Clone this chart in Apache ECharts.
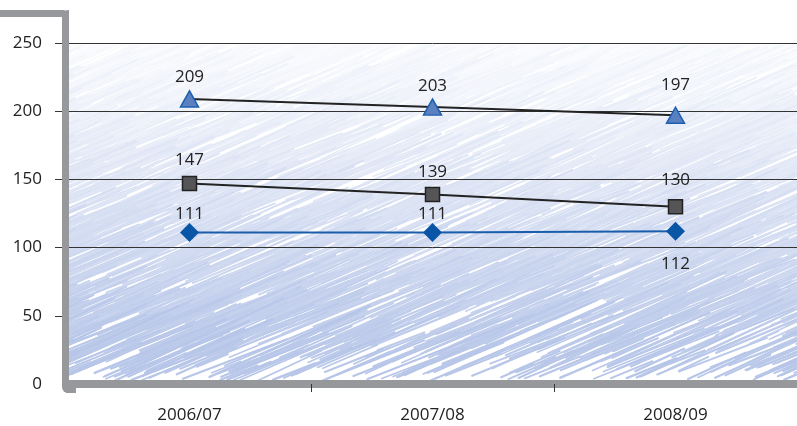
<!DOCTYPE html>
<html><head><meta charset="utf-8">
<script src="https://cdn.jsdelivr.net/npm/echarts@6/dist/echarts.min.js"></script>
<style>html,body{margin:0;padding:0;background:#fff}#c{width:797px;height:426px}</style>
</head><body><div id="c"></div>
<script>
const categories = ['2006/07', '2007/08', '2008/09'];
const triangleValues = [209, 203, 197];
const squareValues = [147, 139, 130];
const diamondValues = [111, 111, 112];
const yTicks = [0, 50, 100, 150, 200, 250];
const triangleLabelDist = [5, 4, 13];
const squareLabelDist = [7, 6, 10];
const diamondLabelPos = ['top', 'top', 'bottom'];
const diamondLabelDist = [0, 0, 15];

function makeTexture(w, h) {
  const c = document.createElement('canvas');
  c.width = w; c.height = h;
  const g = c.getContext('2d');
  g.fillStyle = '#ffffff';
  g.fillRect(0, 0, w, h);
  let s = 987654321;
  const rnd = () => { s = (s * 1103515245 + 12345) % 2147483648; return s / 2147483648; };
  const n = 3200;
  for (let i = 0; i < n; i++) {
    const y = rnd() * h;
    const t = Math.pow(y / h, 1.2);
    const L = 30 + rnd() * 150;
    const x = rnd() * (w + 160) - 160;
    const ang = 0.40 + (rnd() - 0.5) * 0.08;
    const mix = 0.05 + 0.95 * t;
    const r = Math.round(255 + (182 - 255) * mix);
    const gg = Math.round(255 + (197 - 255) * mix);
    const b = Math.round(255 + (232 - 255) * mix);
    g.strokeStyle = 'rgb(' + r + ',' + gg + ',' + b + ')';
    g.lineWidth = 1.6 + rnd() * 0.8;
    g.lineCap = 'round';
    g.beginPath();
    g.moveTo(x, y);
    g.lineTo(x + L * Math.cos(ang), y - L * Math.sin(ang));
    g.stroke();
  }
  return c;
}
const tex = makeTexture(728, 336);

const frameColor = '#97989b';
const font = '"Open Sans", "Noto Sans", sans-serif';
const chart = echarts.init(document.getElementById('c'));
chart.setOption({
  animation: false,
  backgroundColor: '#ffffff',
  grid: { left: 68, right: -6, top: 43, bottom: 42 },
  xAxis: {
    type: 'category', data: categories, boundaryGap: true,
    offset: 5,
    axisLine: { show: true, lineStyle: { color: frameColor, width: 8 } },
    axisTick: { show: true, length: 8, lineStyle: { color: '#333', width: 1 } },
    axisLabel: { color: '#222', fontSize: 17, fontFamily: font, margin: 18 },
    splitLine: { show: false }
  },
  yAxis: {
    type: 'value', min: 0, max: 250, interval: 50,
    axisLine: { show: false },
    axisTick: { show: true, length: 13, customValues: yTicks.slice(1), lineStyle: { color: '#333', width: 1 } },
    axisLabel: { color: '#222', fontSize: 17, fontFamily: font, margin: 26, customValues: yTicks },
    splitLine: { show: true, showMinLine: false, lineStyle: { color: '#333', width: 1 } }
  },
  graphic: {
    elements: [
      { type: 'image', x: 69, y: 45, z: -10, silent: true, style: { image: tex, x: 0, y: 0, width: 728, height: 336 } },
      { type: 'rect', z: 100, silent: true, shape: { x: -10, y: 10, width: 79, height: 7, r: [6, 6, 0, 0] }, style: { fill: frameColor } },
      { type: 'rect', z: 100, silent: true, shape: { x: 62, y: 10, width: 7, height: 383, r: [6, 0, 0, 6] }, style: { fill: frameColor } },
      { type: 'rect', z: 100, silent: true, shape: { x: 66, y: 385, width: 10, height: 8 }, style: { fill: frameColor } }
    ]
  },
  series: [
    {
      type: 'line', z: 5,
      data: triangleValues.map((v, i) => ({ value: v, label: { distance: triangleLabelDist[i] } })),
      symbol: 'triangle', symbolSize: [18, 16],
      lineStyle: { color: '#222', width: 2 },
      itemStyle: { color: '#5b80c1', borderColor: '#1d5fb0', borderWidth: 1.5 },
      label: { show: true, position: 'top', color: '#222', fontSize: 17, fontFamily: font }
    },
    {
      type: 'line', z: 4,
      data: squareValues.map((v, i) => ({ value: v, label: { distance: squareLabelDist[i] } })),
      symbol: 'rect', symbolSize: 14,
      lineStyle: { color: '#222', width: 2 },
      itemStyle: { color: '#555557', borderColor: '#222', borderWidth: 1.5 },
      label: { show: true, position: 'top', color: '#222', fontSize: 17, fontFamily: font }
    },
    {
      type: 'line', z: 3,
      data: diamondValues.map((v, i) => ({ value: v, label: { position: diamondLabelPos[i], distance: diamondLabelDist[i] } })),
      symbol: 'diamond', symbolSize: [19, 19],
      lineStyle: { color: '#1a5eab', width: 2 },
      itemStyle: { color: '#0a56a6', borderWidth: 0 },
      label: { show: true, color: '#222', fontSize: 17, fontFamily: font }
    }
  ]
});
</script></body></html>
